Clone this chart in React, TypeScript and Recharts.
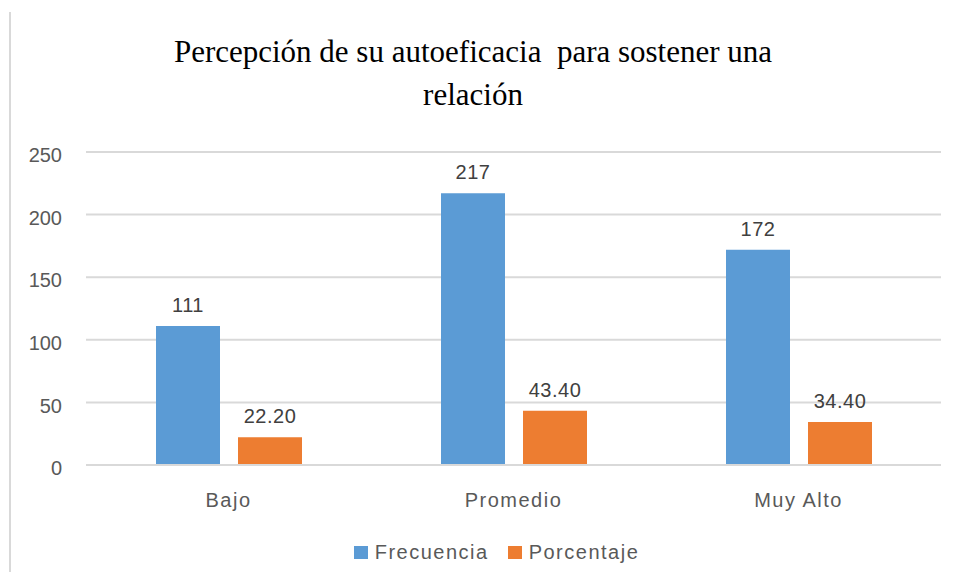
import { BarChart, Bar, XAxis, YAxis, CartesianGrid, Legend, LabelList } from "recharts";

const categories = ["Bajo", "Promedio", "Muy Alto"];
const frecuencia = [111, 217, 172];
const porcentaje = [22.2, 43.4, 34.4];
const yTicks = [0, 50, 100, 150, 200, 250];

const seriesNames = { frecuencia: "Frecuencia", porcentaje: "Porcentaje" };
const BLUE = "#5B9BD5";
const ORANGE = "#ED7D31";
const FONT = "'Liberation Sans', Arial, sans-serif";

const data = categories.map((name, i) => ({
  name,
  frecuencia: frecuencia[i],
  porcentaje: porcentaje[i],
}));

function LegendBox() {
  const items = [
    { label: seriesNames.frecuencia, color: BLUE },
    { label: seriesNames.porcentaje, color: ORANGE },
  ];
  return (
    <div
      style={{
        display: "flex",
        justifyContent: "center",
        alignItems: "center",
        height: 40,
        paddingTop: 8,
        paddingLeft: 44,
        boxSizing: "border-box",
        fontFamily: FONT,
      }}
    >
      {items.map((it, i) => (
        <div key={it.label} style={{ display: "flex", alignItems: "center", marginLeft: i ? 19 : 0 }}>
          <span style={{ width: 14, height: 13, background: it.color, display: "inline-block", marginRight: 7 }} />
          <span style={{ fontSize: 20, color: "#595959", letterSpacing: 1.5 }}>{it.label}</span>
        </div>
      ))}
    </div>
  );
}

export default function App() {
  return (
    <div style={{ position: "relative", width: 940, height: 564, background: "#fff" }}>
      <div style={{ position: "absolute", left: 1, top: 4, bottom: 0, width: 2, background: "#d9d9d9" }} />
      <div
        style={{
          position: "absolute",
          top: 22,
          left: 0,
          width: 930,
          textAlign: "center",
          fontFamily: "'Liberation Serif', 'Times New Roman', serif",
          fontSize: 31,
          lineHeight: "43px",
          color: "#000",
          whiteSpace: "pre",
        }}
      >
        {"Percepción de su autoeficacia  para sostener una\nrelación"}
      </div>
      <BarChart
        width={940}
        height={564}
        data={data}
        margin={{ top: 144, right: 7, left: 0, bottom: 4 }}
        barSize={64}
        barGap={18}
      >
        <CartesianGrid vertical={false} stroke="#d9d9d9" strokeWidth={2} />
        <XAxis
          dataKey="name"
          height={63}
          axisLine={{ stroke: "#d9d9d9", strokeWidth: 2 }}
          tickLine={false}
          tickSize={0}
          tickMargin={28}
          tick={{ fontSize: 20, fill: "#595959", fontFamily: FONT, letterSpacing: 1.5 }}
        />
        <YAxis
          width={78}
          domain={[0, 250]}
          ticks={yTicks}
          axisLine={false}
          tickLine={false}
          tickSize={0}
          tickMargin={24}
          dy={3}
          tick={{ fontSize: 20, fill: "#595959", fontFamily: FONT }}
        />
        <Legend verticalAlign="bottom" height={40} content={<LegendBox />} />
        <Bar dataKey="frecuencia" name={seriesNames.frecuencia} fill={BLUE} isAnimationActive={false}>
          <LabelList
            dataKey="frecuencia"
            position="top"
            offset={14}
            style={{ fontSize: 20, fill: "#404040", fontFamily: FONT, letterSpacing: 0.5 }}
          />
        </Bar>
        <Bar dataKey="porcentaje" name={seriesNames.porcentaje} fill={ORANGE} isAnimationActive={false}>
          <LabelList
            dataKey="porcentaje"
            position="top"
            offset={14}
            formatter={(v: number) => v.toFixed(2)}
            style={{ fontSize: 20, fill: "#404040", fontFamily: FONT, letterSpacing: 0.5 }}
          />
        </Bar>
      </BarChart>
    </div>
  );
}
